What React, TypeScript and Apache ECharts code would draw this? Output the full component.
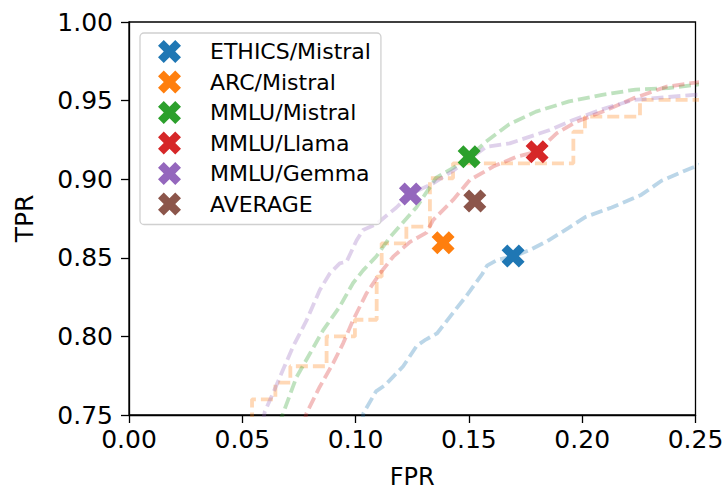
import React, { useEffect, useRef } from "react";
import * as echarts from "echarts";

const seriesNames = ["ETHICS/Mistral", "ARC/Mistral", "MMLU/Mistral", "MMLU/Llama", "MMLU/Gemma", "AVERAGE"];
const colors = ["#1f77b4", "#ff7f0e", "#2ca02c", "#d62728", "#9467bd", "#8c564b"];

// operating points (FPR, TPR)
const markerFPR = [0.1695, 0.1386, 0.1501, 0.1801, 0.1242, 0.1526];
const markerTPR = [0.8511, 0.8596, 0.9143, 0.9175, 0.8906, 0.8861];

// ROC curves [FPR, TPR]
const rocEthicsMistral = [
  [0.103, 0.744], [0.1034, 0.751], [0.109, 0.765], [0.113, 0.769], [0.121, 0.781], [0.127, 0.794],
  [0.131, 0.798], [0.136, 0.802], [0.143, 0.815], [0.149, 0.826], [0.156, 0.84], [0.158, 0.845],
  [0.163, 0.849], [0.17, 0.851], [0.177, 0.855], [0.185, 0.861], [0.194, 0.869], [0.2015, 0.876],
  [0.213, 0.882], [0.226, 0.89], [0.235, 0.899], [0.248, 0.907], [0.255, 0.911],
];
const rocArcMistral = [
  [0.0543, 0.744], [0.0543, 0.76], [0.0646, 0.76], [0.0646, 0.7706], [0.0712, 0.7706], [0.0712, 0.781],
  [0.0872, 0.781], [0.0872, 0.8], [0.0997, 0.8], [0.0997, 0.8106], [0.1093, 0.8106], [0.1093, 0.838],
  [0.1115, 0.838], [0.1115, 0.8592], [0.1224, 0.8592], [0.1224, 0.8698], [0.1328, 0.8698], [0.1328, 0.9006],
  [0.143, 0.9006], [0.143, 0.9101], [0.1961, 0.9101], [0.1961, 0.9302], [0.2012, 0.9302], [0.2012, 0.9398],
  [0.2255, 0.9398], [0.2255, 0.9504], [0.255, 0.9504],
];
const rocMmluMistral = [
  [0.066, 0.744], [0.068, 0.751], [0.0739, 0.774], [0.0798, 0.789], [0.0857, 0.804], [0.093, 0.819],
  [0.0989, 0.834], [0.1033, 0.842], [0.1092, 0.851], [0.1151, 0.863], [0.1268, 0.882], [0.1356, 0.901],
  [0.1429, 0.907], [0.15, 0.914], [0.1576, 0.924], [0.1678, 0.935], [0.1796, 0.943], [0.1942, 0.9495],
  [0.2088, 0.9537], [0.2235, 0.957], [0.2381, 0.958], [0.25, 0.96], [0.255, 0.961],
];
const rocMmluLlama = [
  [0.077, 0.744], [0.0783, 0.751], [0.0842, 0.768], [0.0901, 0.783], [0.0945, 0.7956], [0.0989, 0.8104],
  [0.1048, 0.8274], [0.1107, 0.84], [0.1166, 0.8507], [0.1239, 0.86], [0.1313, 0.866], [0.1342, 0.874],
  [0.143, 0.8868], [0.1504, 0.8995], [0.1607, 0.908], [0.171, 0.9143], [0.18, 0.9175], [0.1887, 0.9292],
  [0.1975, 0.9366], [0.2108, 0.944], [0.2225, 0.9514], [0.2373, 0.9589], [0.25, 0.9615], [0.255, 0.962],
];
const rocMmluGemma = [
  [0.059, 0.745], [0.0599, 0.752], [0.0636, 0.764], [0.0673, 0.7765], [0.0724, 0.7935], [0.0783, 0.81],
  [0.0842, 0.8295], [0.0886, 0.84], [0.093, 0.8465], [0.096, 0.8475], [0.1004, 0.861], [0.1033, 0.8677],
  [0.1093, 0.8716], [0.118, 0.882], [0.1242, 0.8906], [0.1342, 0.8974], [0.1429, 0.9053], [0.1578, 0.9207],
  [0.168, 0.9228], [0.1857, 0.9313], [0.196, 0.9377], [0.2078, 0.944], [0.2225, 0.9504], [0.249, 0.9536],
  [0.255, 0.954],
];

const xTicks = [0, 0.05, 0.1, 0.15, 0.2, 0.25];
const yTicks = [0.75, 0.8, 0.85, 0.9, 0.95, 1.0];

const rocCurves = [rocEthicsMistral, rocArcMistral, rocMmluMistral, rocMmluLlama, rocMmluGemma];

const X_PATH =
  "path://M25,0 L50,25 L75,0 L100,25 L75,50 L100,75 L75,100 L50,75 L25,100 L0,75 L25,50 L0,25 Z";

const FONT = "DejaVu Sans";

export default function App() {
  const ref = useRef<HTMLDivElement>(null);
  useEffect(() => {
    if (!ref.current) return;
    const chart = echarts.init(ref.current, undefined, { renderer: "svg" });
    const curveSeries = rocCurves.map((pts, i) => ({
      type: "line",
      name: seriesNames[i] + " ROC",
      data: pts,
      showSymbol: false,
      symbol: "none",
      clip: true,
      z: 1,
      lineStyle: { color: colors[i], width: 3.8, opacity: 0.3, type: [12, 5] },
      silent: true,
    }));
    const markerSeries = seriesNames.map((name, i) => ({
      type: "scatter",
      name,
      data: [[markerFPR[i], markerTPR[i]]],
      symbol: X_PATH,
      symbolSize: 23,
      itemStyle: { color: colors[i], opacity: 1 },
      z: 5,
    }));
    chart.setOption({
      animation: false,
      backgroundColor: "#ffffff",
      textStyle: { fontFamily: FONT },
      grid: {
        left: 129,
        right: 31.5,
        top: 22,
        bottom: 77,
        outerBoundsMode: "none",
        containLabel: false,
        show: true,
        borderColor: "#000",
        borderWidth: 1.3,
        backgroundColor: "transparent",
      },
      xAxis: {
        type: "value",
        min: xTicks[0],
        max: xTicks[xTicks.length - 1],
        interval: 0.05,
        name: "FPR",
        nameLocation: "middle",
        nameGap: 53,
        nameTextStyle: { fontSize: 24, lineHeight: 18, color: "#000", fontFamily: FONT },
        axisLine: { show: true, onZero: false, lineStyle: { color: "#000", width: 1.3 } },
        axisTick: { show: true, length: 8, lineStyle: { color: "#000", width: 1.3 } },
        axisLabel: {
          fontSize: 25,
          color: "#000",
          fontFamily: FONT,
          margin: 12,
          formatter: (v: number) => v.toFixed(2),
        },
        splitLine: { show: false },
      },
      yAxis: {
        type: "value",
        min: yTicks[0],
        max: yTicks[yTicks.length - 1],
        interval: 0.05,
        name: "TPR",
        nameLocation: "middle",
        nameGap: 92,
        nameRotate: 90,
        nameTextStyle: { fontSize: 25, color: "#000", fontFamily: FONT },
        axisLine: { show: true, onZero: false, lineStyle: { color: "#000", width: 1.3 } },
        axisTick: { show: true, length: 8, lineStyle: { color: "#000", width: 1.3 } },
        axisLabel: {
          fontSize: 25,
          color: "#000",
          fontFamily: FONT,
          margin: 16,
          formatter: (v: number) => v.toFixed(2),
        },
        splitLine: { show: false },
      },
      legend: {
        orient: "vertical",
        left: 140,
        top: 33,
        padding: [7, 10, 9, 18],
        itemGap: 7.5,
        itemWidth: 23,
        itemHeight: 23,
        backgroundColor: "rgba(255,255,255,0.8)",
        borderColor: "#d0d0d0",
        borderWidth: 1.3,
        borderRadius: 4,
        data: seriesNames.map((n) => ({ name: n, icon: X_PATH })),
        textStyle: {
          fontSize: 22,
          color: "#000",
          fontFamily: FONT,
          lineHeight: 23,
          padding: [0, 0, 0, 24],
        },
        selectedMode: false,
      },
      series: [...curveSeries, ...markerSeries],
    });
    return () => chart.dispose();
  }, []);
  return (
    <div
      ref={ref}
      style={{ position: "absolute", left: 0, top: 0, width: 727, height: 492 }}
    />
  );
}
